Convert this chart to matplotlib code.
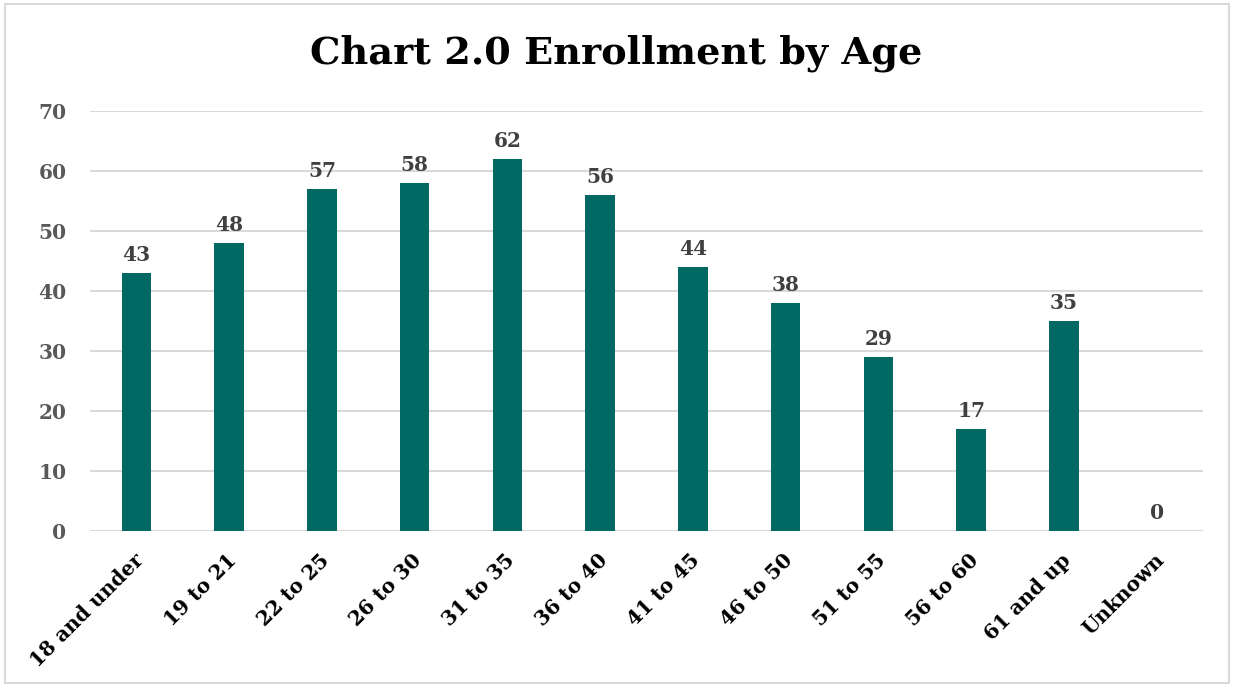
import matplotlib.pyplot as plt
import matplotlib.transforms as mtransforms
import numpy as np
from matplotlib.patches import Rectangle

categories = ['18 and under', '19 to 21', '22 to 25', '26 to 30', '31 to 35', '36 to 40',
              '41 to 45', '46 to 50', '51 to 55', '56 to 60', '61 and up', 'Unknown']
enrollment = [43, 48, 57, 58, 62, 56, 44, 38, 29, 17, 35, 0]
yticks = [0, 10, 20, 30, 40, 50, 60, 70]

plt.rcParams['font.family'] = ['DejaVu Serif']
plt.rcParams['font.weight'] = 'bold'

fig = plt.figure(figsize=(12.33, 6.86), dpi=100)
ax = fig.add_axes([90 / 1233, 1 - 531 / 686, (1203 - 90) / 1233, (531 - 111) / 686])

pos = np.arange(len(categories))
bars = ax.bar(pos, enrollment, width=0.32, color='#006863', zorder=3)
for x, v in zip(pos, enrollment):
    ax.text(x, v + 1.4, str(v), ha='center', va='bottom', fontsize=14.5,
            fontweight='bold', color='#404040')

ax.set_xlim(-0.5, len(categories) - 0.5)
ax.set_ylim(0, 70)
ax.set_yticks(yticks)
ax.set_yticklabels([str(t) for t in yticks], fontsize=14.5, fontweight='bold', color='#595959')
ax.set_xticks(pos)
ax.set_xticklabels(categories, rotation=45, ha='right', rotation_mode='anchor',
                   fontsize=14.5, fontweight='bold', color='black')
ax.tick_params(axis='both', length=0)
ax.tick_params(axis='y', pad=17)
ax.tick_params(axis='x', pad=13)
# nudge the rotated labels a little left
shift = mtransforms.ScaledTranslation(-3 / 100, -1 / 100, fig.dpi_scale_trans)
for lbl in ax.get_xticklabels():
    lbl.set_transform(lbl.get_transform() + shift)
ax.grid(axis='y', color='#d9d9d9', linewidth=1.5, zorder=0)
for s in ax.spines.values():
    s.set_visible(False)

fig.text(0.5, 1 - 53 / 686, 'Chart 2.0 Enrollment by Age', ha='center', va='center',
         fontsize=27.5, fontweight='bold', color='black')

fig.patches.append(Rectangle((5 / 1233, 3 / 686), 1224 / 1233, 679 / 686, transform=fig.transFigure,
                             fill=False, edgecolor='#d9d9d9', linewidth=1.5))

fig.savefig('out.png', dpi=100)
